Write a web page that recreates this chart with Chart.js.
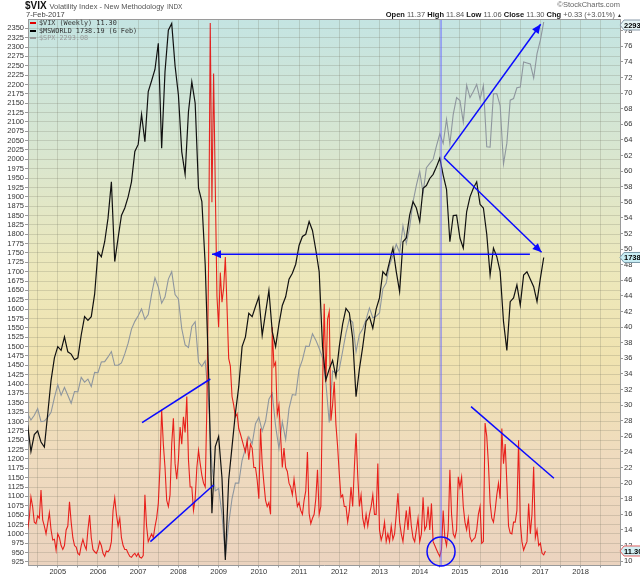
<!DOCTYPE html>
<html>
<head>
<meta charset="utf-8">
<script src="https://cdn.jsdelivr.net/npm/chart.js@4.4.0/dist/chart.umd.min.js"></script>
<style>
  body { margin: 0; background: #fff; }
  #wrap { position: relative; width: 640px; height: 576px; font-family: "Liberation Sans", Arial, sans-serif; color: #333; }
  #c { position: absolute; left: 0; top: 0; }
  .t { position: absolute; white-space: nowrap; line-height: 1; }
  .lg { position: absolute; left: 30px; white-space: nowrap; line-height: 1; font-family: "DejaVu Sans Mono", monospace; font-size: 6.8px; }
  .lg i { display: inline-block; width: 6px; height: 2px; margin-right: 3px; vertical-align: middle; }
</style>
</head>
<body>
<div id="wrap">
  <canvas id="c" width="640" height="576"></canvas>
  <div class="t" style="left:25px;top:1px;font-size:10px;font-weight:bold;color:#111">$VIX <span style="font-weight:normal;font-size:7.5px;color:#555">Volatility Index - New Methodology</span> <span style="font-weight:normal;font-size:6.5px;color:#555">INDX</span></div>
  <div class="t" style="left:26px;top:11px;font-size:7.5px;color:#444">7-Feb-2017</div>
  <div class="t" style="right:20px;top:1px;font-size:7.5px;color:#666">©StockCharts.com</div>
  <div class="t" style="right:18px;top:11px;font-size:7.5px;color:#555"><b style="color:#111">Open</b> 11.37 <b style="color:#111">High</b> 11.84 <b style="color:#111">Low</b> 11.06 <b style="color:#111">Close</b> 11.30 <b style="color:#111">Chg</b> +0.33 (+3.01%) <span style="font-size:5px;color:#333">▲</span></div>
  <div class="lg" style="top:20px;color:#333"><i style="background:#e00000"></i>$VIX (Weekly) 11.30</div>
  <div class="lg" style="top:27.5px;color:#333"><i style="background:#000"></i>$MSWORLD 1738.19 (6 Feb)</div>
  <div class="lg" style="top:35px;color:#9a9a9a"><i style="background:#999"></i>$SPX 2293.08</div>
</div>
<script>
// months shown (first of each month), Apr 2004 .. Feb 2017
const months = [
  "2004-04","2004-05","2004-06","2004-07","2004-08","2004-09","2004-10","2004-11","2004-12",
  "2005-01","2005-02","2005-03","2005-04","2005-05","2005-06","2005-07","2005-08","2005-09","2005-10","2005-11","2005-12",
  "2006-01","2006-02","2006-03","2006-04","2006-05","2006-06","2006-07","2006-08","2006-09","2006-10","2006-11","2006-12",
  "2007-01","2007-02","2007-03","2007-04","2007-05","2007-06","2007-07","2007-08","2007-09","2007-10","2007-11","2007-12",
  "2008-01","2008-02","2008-03","2008-04","2008-05","2008-06","2008-07","2008-08","2008-09","2008-10","2008-11","2008-12",
  "2009-01","2009-02","2009-03","2009-04","2009-05","2009-06","2009-07","2009-08","2009-09","2009-10","2009-11","2009-12",
  "2010-01","2010-02","2010-03","2010-04","2010-05","2010-06","2010-07","2010-08","2010-09","2010-10","2010-11","2010-12",
  "2011-01","2011-02","2011-03","2011-04","2011-05","2011-06","2011-07","2011-08","2011-09","2011-10","2011-11","2011-12",
  "2012-01","2012-02","2012-03","2012-04","2012-05","2012-06","2012-07","2012-08","2012-09","2012-10","2012-11","2012-12",
  "2013-01","2013-02","2013-03","2013-04","2013-05","2013-06","2013-07","2013-08","2013-09","2013-10","2013-11","2013-12",
  "2014-01","2014-02","2014-03","2014-04","2014-05","2014-06","2014-07","2014-08","2014-09","2014-10","2014-11","2014-12",
  "2015-01","2015-02","2015-03","2015-04","2015-05","2015-06","2015-07","2015-08","2015-09","2015-10","2015-11","2015-12",
  "2016-01","2016-02","2016-03","2016-04","2016-05","2016-06","2016-07","2016-08","2016-09","2016-10","2016-11","2016-12",
  "2017-01","2017-02"
];

// $MSWORLD, one value per month (left axis)
const msworld = [
  1291,1220,1265,1275,1245,1232,1320,1410,1470,
  1500,1490,1526,1486,1480,1465,1470,1531,1580,1570,1580,1640,
  1753,1740,1780,1843,1940,1727,1790,1850,1870,1900,1940,2021,
  2040,2120,2047,2181,2210,2240,2310,2030,2234,2345,2363,2250,
  2172,2020,1960,2127,2207,2150,1923,1887,1718,1430,1055,1233,
  1260,1150,930,1144,1233,1322,1393,1500,1526,1589,1580,1607,
  1633,1530,1590,1650,1540,1500,1560,1610,1633,1680,1696,1720,
  1770,1794,1800,1834,1810,1758,1700,1500,1411,1440,1463,1420,
  1500,1560,1602,1590,1522,1366,1440,1500,1567,1580,1549,1600,
  1630,1700,1690,1727,1763,1700,1647,1780,1790,1851,1887,1870,
  1834,1923,1930,1949,1960,1980,2003,1958,1920,1780,1850,1851,
  1790,1763,1860,1900,1923,1940,1880,1870,1800,1691,1763,1740,
  1700,1567,1490,1620,1630,1665,1611,1691,1700,1680,1660,1620,
  1682,1738
];

// $SPX, one value per month (own hidden scale)
const spx = [
  1126,1107,1121,1141,1102,1104,1115,1130,1174,
  1212,1181,1204,1181,1157,1192,1191,1234,1220,1229,1207,1249,
  1248,1280,1281,1295,1311,1270,1270,1277,1304,1336,1378,1401,
  1418,1438,1407,1421,1482,1531,1503,1455,1474,1527,1549,1481,
  1468,1379,1331,1323,1386,1400,1280,1267,1283,1166,969,896,
  903,826,700,798,873,919,919,987,1021,1057,1036,1096,
  1115,1074,1104,1169,1187,1089,1022,1102,1049,1141,1183,1181,
  1258,1286,1327,1326,1364,1345,1321,1292,1219,1100,1253,1247,
  1258,1312,1366,1408,1398,1310,1362,1379,1407,1441,1412,1416,
  1426,1498,1515,1569,1598,1631,1606,1686,1633,1682,1757,1806,
  1848,1783,1859,1872,1884,1924,1960,1931,2003,1930,2018,2068,
  2059,1995,2105,2068,2086,2107,2063,2104,1921,1920,2079,2080,
  2044,1870,1932,2060,2065,2097,2099,2174,2171,2168,2126,2199,
  2239,2293
];

// $VIX weekly, two readings per month: start and middle (right axis)
const vix = [
  14.0,15.5, 18.2,17.0, 15.0,14.8, 15.8,15.5, 19.1,15.3, 14.5,13.5, 14.8,16.2, 14.0,12.7, 12.8,11.4,
  13.5,13.0, 12.0,11.5, 12.0,14.0, 14.5,17.6, 15.0,13.0, 12.0,11.8, 11.0,10.8, 12.0,12.8, 12.0,11.5, 14.0,15.9, 13.0,11.5, 11.2,11.0,
  11.5,12.5, 12.0,11.0, 10.6,11.3, 11.2,11.5, 12.5,16.5, 18.1,16.0, 14.5,15.5, 13.0,12.0, 11.5,11.5, 11.0,10.6, 10.5,10.8, 11.0,10.6,
  11.0,10.5, 10.4,10.7, 18.5,14.5, 12.5,13.0, 13.5,13.0, 14.4,15.5, 17.4,22.0, 29.4,25.0, 22.0,17.8, 17.0,18.5, 25.0,28.3, 22.5,20.5,
  23.0,27.2, 25.0,28.5, 26.5,31.1, 23.0,19.5, 19.5,16.5, 18.0,22.0, 24.2,22.5, 21.0,20.0, 19.5,30.0, 48.0,79.0, 56.0,72.5, 58.0,44.0,
  40.0,47.0, 43.2,45.0, 49.0,42.6, 36.0,35.0, 31.1,30.0, 28.5,28.9, 27.0,26.3, 25.5,24.7, 24.0,25.5, 23.0,25.0, 24.5,22.0, 22.0,20.4,
  18.0,27.0, 22.5,20.0, 17.8,17.0, 17.5,16.0, 40.0,35.0, 35.5,28.8, 30.0,26.0, 22.0,24.5, 22.0,21.5, 20.0,19.5, 18.5,20.5, 18.7,17.0,
  17.5,16.5, 16.0,17.8, 19.0,24.0, 16.1,14.8, 15.5,16.0, 18.0,21.7, 16.0,17.0, 32.0,43.0, 33.0,41.0, 42.0,28.0, 30.0,33.0, 27.5,24.7,
  21.2,18.2, 18.5,17.0, 17.0,15.0, 16.5,19.5, 17.0,22.0, 26.4,21.0, 17.0,18.5, 15.5,14.4, 16.0,14.5, 16.0,17.0, 18.5,16.0, 16.0,22.5,
  14.0,12.7, 13.5,15.0, 12.5,13.5, 12.5,14.5, 12.8,13.5, 16.0,18.7, 15.0,13.5, 12.5,14.5, 16.5,14.0, 17.0,14.5, 13.0,12.5, 14.0,15.5,
  12.5,13.5, 18.2,14.0, 14.5,17.0, 14.0,17.4, 12.5,12.0, 11.5,11.0, 10.6,11.5, 16.5,13.0, 12.0,14.0, 21.7,16.0, 13.5,13.0, 14.0,20.8,
  19.5,20.8, 17.0,15.0, 14.0,15.5, 13.1,12.5, 12.8,13.0, 14.0,16.0, 17.0,12.3, 12.5,27.7, 26.0,22.5, 17.5,15.5, 15.0,16.5, 18.5,20.0,
  18.0,27.0, 22.5,25.0, 20.0,14.5, 13.6,13.5, 15.0,15.0, 16.5,25.5, 15.0,12.5, 11.4,12.0, 12.5,17.4, 13.5,16.0, 22.1,13.0, 14.0,12.0,
  12.3,11.0, 10.8,11.3
];

// axis ticks
const leftTicks = [925,950,975,1000,1025,1050,1075,1100,1125,1150,1175,1200,1225,1250,1275,1300,1325,1350,1375,1400,
  1425,1450,1475,1500,1525,1550,1575,1600,1625,1650,1675,1700,1725,1750,1775,1800,1825,1850,1875,1900,
  1925,1950,1975,2000,2025,2050,2075,2100,2125,2150,2175,2200,2225,2250,2275,2300,2325,2350];
const rightTicks = [10,12,14,16,18,20,22,24,26,28,30,32,34,36,38,40,42,44,46,48,50,52,54,56,58,60,62,64,66,68,70,72,74,76,78];
const yearLabels = [2005,2006,2007,2008,2009,2010,2011,2012,2013,2014,2015,2016,2017,2018];
const xGrid = [2004.5,2005,2005.5,2006,2006.5,2007,2007.5,2008,2008.5,2009,2009.5,2010,2010.5,2011,2011.5,
  2012,2012.5,2013,2013.5,2014,2014.5,2015,2015.5,2016,2016.5,2017,2017.5,2018,2018.5];

// hand-drawn blue markup, in chart units (year, left-axis value)
const markupLines = [
  [2016.74, 1746.5, 2008.835, 1746.5, true],
  [2014.605, 2004.5, 2017.007, 2360.7, true],
  [2014.605, 2004.5, 2017.03, 1751.9, true],
  [2007.096, 1296.8, 2008.793, 1413.5, false],
  [2007.303, 979.1, 2008.875, 1130.5, false],
  [2015.276, 1339.6, 2017.337, 1148.4, false]
];
const markerYear = 2014.53;
const markupCircle = [2014.53, 953, 0.348, 38.7];

const monthX = months.map(s => { const [y, m] = s.split("-").map(Number); return y + (m - 1) / 12; });
const vixX = monthX.flatMap(x => [x, x + 1 / 24]);
const pts = (xs, vs) => vs.map((v, i) => ({ x: xs[i], y: v }));

const gridColor = "rgba(110,110,90,0.22)";
const tickFont = { family: "Liberation Sans", size: 7.5 };

const bgPlugin = {
  id: "bg",
  beforeDraw(chart) {
    const { ctx, chartArea: a } = chart;
    const g = ctx.createLinearGradient(0, a.top, 0, a.bottom);
    g.addColorStop(0, "#c4e4e2");
    g.addColorStop(0.25, "#d9e6cf");
    g.addColorStop(0.45, "#ece8bc");
    g.addColorStop(0.62, "#f0e3b0");
    g.addColorStop(0.8, "#efdbbe");
    g.addColorStop(1, "#ebd3bf");
    ctx.save();
    ctx.fillStyle = g;
    ctx.fillRect(a.left, a.top, a.right - a.left, a.bottom - a.top);
    ctx.restore();
  }
};

function arrowHead(ctx, x1, y1, x2, y2) {
  const ang = Math.atan2(y2 - y1, x2 - x1), L = 9, W = 4;
  ctx.beginPath();
  ctx.moveTo(x2, y2);
  ctx.lineTo(x2 - L * Math.cos(ang) + W * Math.sin(ang), y2 - L * Math.sin(ang) - W * Math.cos(ang));
  ctx.lineTo(x2 - L * Math.cos(ang) - W * Math.sin(ang), y2 - L * Math.sin(ang) + W * Math.cos(ang));
  ctx.closePath();
  ctx.fill();
}

function tag(ctx, x, y, text, fill, stroke) {
  ctx.beginPath();
  ctx.moveTo(x, y);
  ctx.lineTo(x + 4, y - 5);
  ctx.lineTo(641, y - 5);
  ctx.lineTo(641, y + 5);
  ctx.lineTo(x + 4, y + 5);
  ctx.closePath();
  ctx.fillStyle = fill;
  ctx.fill();
  ctx.strokeStyle = stroke;
  ctx.lineWidth = 1;
  ctx.stroke();
  ctx.fillStyle = "#000";
  ctx.font = "bold 7.5px 'Liberation Sans'";
  ctx.textBaseline = "middle";
  ctx.fillText(text, x + 4, y + 0.5);
}

const markupPlugin = {
  id: "markup",
  afterDatasetsDraw(chart) {
    const { ctx, chartArea: a, scales } = chart;
    const sx = scales.x, sy = scales.y;
    ctx.save();
    // vertical marker
    const vx = sx.getPixelForValue(markerYear);
    ctx.strokeStyle = "#6a6aff";
    ctx.lineWidth = 1;
    ctx.beginPath();
    ctx.moveTo(vx, a.top);
    ctx.lineTo(vx, a.bottom);
    ctx.stroke();
    // trend lines and arrows
    ctx.strokeStyle = "#0a0aff";
    ctx.fillStyle = "#0a0aff";
    ctx.lineWidth = 1.5;
    markupLines.forEach(([x1, y1, x2, y2, arrow]) => {
      const p1 = [sx.getPixelForValue(x1), sy.getPixelForValue(y1)];
      const p2 = [sx.getPixelForValue(x2), sy.getPixelForValue(y2)];
      ctx.beginPath();
      ctx.moveTo(p1[0], p1[1]);
      ctx.lineTo(p2[0], p2[1]);
      ctx.stroke();
      if (arrow) arrowHead(ctx, p1[0], p1[1], p2[0], p2[1]);
    });
    // circle round the 2014 VIX low
    const [cx, cy, rx, ry] = markupCircle;
    const px = sx.getPixelForValue(cx), py = sy.getPixelForValue(cy);
    const prx = sx.getPixelForValue(cx + rx) - px, pry = py - sy.getPixelForValue(cy + ry);
    ctx.beginPath();
    ctx.ellipse(px, py, prx, pry, 0, 0, Math.PI * 2);
    ctx.stroke();
    ctx.restore();
  },
  afterDraw(chart) {
    const { ctx, chartArea: a, scales } = chart;
    ctx.save();
    ctx.strokeStyle = "#9a9a9a";
    ctx.lineWidth = 1;
    ctx.beginPath();
    ctx.moveTo(a.left, a.top + 0.5);
    ctx.lineTo(a.right, a.top + 0.5);
    ctx.stroke();
    const ySpx = Math.max(scales.y2.getPixelForValue(spx[spx.length - 1]), a.top + 6);
    tag(ctx, a.right, ySpx, "2293.0", "#e6f4f4", "#8a9aa8");
    tag(ctx, a.right, scales.y.getPixelForValue(msworld[msworld.length - 1]), "1738.1", "#c9eef4", "#7a9aa8");
    tag(ctx, a.right, scales.y1.getPixelForValue(vix[vix.length - 1]), "11.30", "#d4f0f4", "#e06060");
    ctx.restore();
  }
};

new Chart(document.getElementById("c"), {
  type: "line",
  data: {
    datasets: [
      { label: "$MSWORLD", data: pts(monthX, msworld), yAxisID: "y", borderColor: "#111", borderWidth: 1.2 },
      { label: "$VIX", data: pts(vixX, vix), yAxisID: "y1", borderColor: "rgba(232,0,0,0.85)", borderWidth: 1.1 },
      { label: "$SPX", data: pts(monthX, spx), yAxisID: "y2", borderColor: "#8e969e", borderWidth: 1.1 }
    ]
  },
  options: {
    responsive: false,
    animation: false,
    elements: { point: { radius: 0 }, line: { tension: 0 } },
    layout: { padding: { top: 19, left: 0, right: 0, bottom: 0 } },
    plugins: { legend: { display: false }, tooltip: { enabled: false } },
    scales: {
      x: {
        type: "linear", min: 2004.26, max: 2018.98,
        afterBuildTicks: s => { s.ticks = xGrid.map(v => ({ value: v })); },
        afterFit: s => { s.height = 10.5; },
        ticks: { autoSkip: false, maxRotation: 0, padding: 0, font: tickFont, color: "#333",
          callback: v => yearLabels.includes(v) ? String(v) : "" },
        grid: { color: gridColor, tickLength: 2, tickColor: "#999" },
        border: { color: "#9a9a9a" }
      },
      y: {
        position: "left", min: 915.5, max: 2374.8,
        afterBuildTicks: s => { s.ticks = leftTicks.map(v => ({ value: v })); },
        afterFit: s => { s.width = 28; },
        ticks: { autoSkip: false, padding: 1, font: tickFont, color: "#333", callback: v => String(v) },
        grid: { color: gridColor, tickLength: 3, tickColor: "#999" },
        border: { color: "#9a9a9a" }
      },
      y1: {
        position: "right", min: 9.44, max: 79.5,
        afterBuildTicks: s => { s.ticks = rightTicks.map(v => ({ value: v })); },
        afterFit: s => { s.width = 20; },
        ticks: { autoSkip: false, padding: 1, font: tickFont, color: "#333", callback: v => String(v) },
        grid: { drawOnChartArea: false, tickLength: 3, tickColor: "#999" },
        border: { color: "#9a9a9a" }
      },
      y2: { display: false, min: 673.5, max: 2302 }
    }
  },
  plugins: [bgPlugin, markupPlugin]
});
</script>
</body>
</html>
